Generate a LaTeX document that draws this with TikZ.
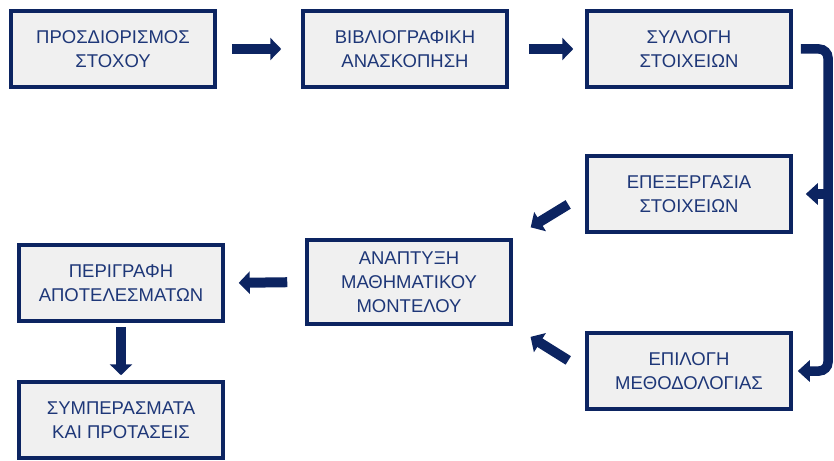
\documentclass[tikz,border=0pt]{standalone}
\usepackage{fontspec}
\setmainfont{Liberation Sans}
\usepackage{tikz}
\usetikzlibrary{arrows.meta}
\definecolor{navy}{RGB}{12,36,97}
\definecolor{boxtext}{RGB}{30,55,120}
\definecolor{boxfill}{RGB}{240,240,240}

\begin{document}
\begin{tikzpicture}[x=1pt,y=-1pt]
    \tikzstyle{stage}=[rectangle,draw=navy,line width=3.5pt,fill=boxfill,text=boxtext,align=center,
                       minimum width=204pt,minimum height=76pt,inner sep=0pt,
                       font=\fontsize{18.5}{24}\selectfont]
    \tikzstyle{block}=[draw=navy,line width=10pt,-{Triangle[length=11pt,width=22pt]}]
    \tikzstyle{bus}=[draw=navy,line width=9.5pt,-{Triangle[length=12pt,width=21pt]}]

    \useasboundingbox (0,0) rectangle (834,460);

    \def\xa{113}
    \def\xb{405}
    \def\xc{689}

    \node[stage] (goal)    at (\xa,49)  {ΠΡΟΣΔΙΟΡΙΣΜΟΣ\\ΣΤΟΧΟΥ};
    \node[stage] (review)  at (\xb,49)  {ΒΙΒΛΙΟΓΡΑΦΙΚΗ\\ΑΝΑΣΚΟΠΗΣΗ};
    \node[stage] (collect) at (\xc,49)  {ΣΥΛΛΟΓΗ\\ΣΤΟΙΧΕΙΩΝ};
    \node[stage] (process) at (\xc,194) {ΕΠΕΞΕΡΓΑΣΙΑ\\ΣΤΟΙΧΕΙΩΝ};
    \node[stage] (method)  at (\xc,371) {ΕΠΙΛΟΓΗ\\ΜΕΘΟΔΟΛΟΓΙΑΣ};
    \node[stage,minimum height=84pt] (model) at (409,282) {ΑΝΑΠΤΥΞΗ\\ΜΑΘΗΜΑΤΙΚΟΥ\\ΜΟΝΤΕΛΟΥ};
    \node[stage] (results) at (121,283) {ΠΕΡΙΓΡΑΦΗ\\ΑΠΟΤΕΛΕΣΜΑΤΩΝ};
    \node[stage] (concl)   at (121,420) {ΣΥΜΠΕΡΑΣΜΑΤΑ\\ΚΑΙ ΠΡΟΤΑΣΕΙΣ};

    \coordinate (spine) at (828,0);

    \path[block,shorten <=15pt,shorten >=20pt] (goal) -- (review);
    \path[block,shorten <=20pt,shorten >=12pt] (review) -- (collect);

    \path[bus,rounded corners=9pt,shorten <=8pt,shorten >=5pt]
        (collect.east) -- (collect.east -| spine) |- (method.east);
    \path[bus,shorten >=13pt] (spine |- process.east) -- (process.east);

    \path[block,shorten <=20pt,shorten >=21pt] (process.west) -- (model.north east);
    \path[block,shorten <=20pt,shorten >=21pt] (method.west) -- (model.south east);
    \path[block,shorten <=18pt,shorten >=14pt] (model.west) -- (results.east);
    \path[block,shorten <=4pt,shorten >=5pt] (results.south) -- (concl.north);
\end{tikzpicture}
\end{document}
